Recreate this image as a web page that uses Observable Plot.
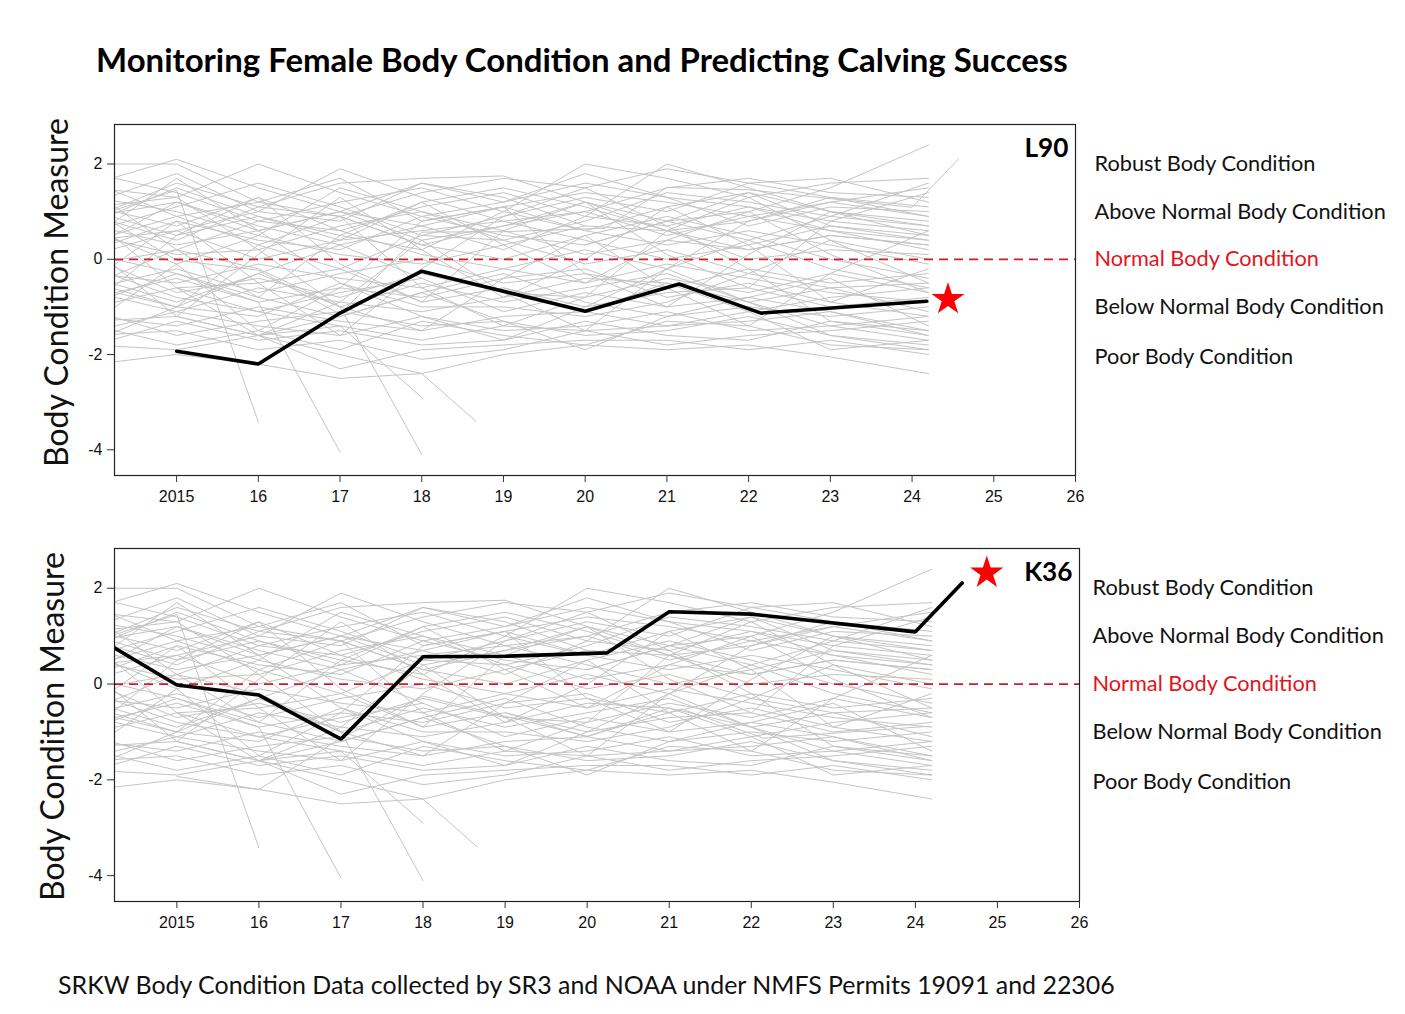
<!DOCTYPE html>
<html>
<head>
<meta charset="utf-8">
<script src="https://cdn.jsdelivr.net/npm/d3@7"></script>
<script src="https://cdn.jsdelivr.net/npm/@observablehq/plot@0.6"></script>
<style>
  html, body { margin: 0; padding: 0; background: #fff; }
  #page { position: relative; width: 1405px; height: 1014px; overflow: hidden; background: #fff; }
  .txt { position: absolute; white-space: nowrap; line-height: 1; color: #111; }
  #page svg { position: absolute; left: 0; }
</style>
</head>
<body>
<div id="page"></div>
<script>
// ---------------- DATA ----------------
const titleText = "Monitoring Female Body Condition and Predicting Calving Success";
const captionText = "SRKW Body Condition Data collected by SR3 and NOAA under NMFS Permits 19091 and 22306";
const yLabelText = "Body Condition Measure";
const panelIds = ["L90", "K36"];

const xTicks = [2015, 2016, 2017, 2018, 2019, 2020, 2021, 2022, 2023, 2024, 2025, 2026];
const xTickLabels = ["2015", "16", "17", "18", "19", "20", "21", "22", "23", "24", "25", "26"];
const yTicks = [2, 0, -2, -4];
const yTickLabels = ["2", "0", "-2", "-4"];

const conditionLabels = ["Robust Body Condition", "Above Normal Body Condition", "Normal Body Condition", "Below Normal Body Condition", "Poor Body Condition"];
const conditionLevels = [2, 1, 0, -1, -2.05];

// survey times of the population (grey lines)
const surveyYears = [2014, 2015, 2016, 2017, 2018, 2019, 2020, 2021, 2022, 2023, 2024.2];
const grayValues = [
  [2.0, 2.0, 1.2, 0.9, 1.4, 1.7, 1.5, 1.9, 1.6, 1.3, 1.1],
  [1.6, 2.1, 1.5, 1.0, 0.7, 1.1, 1.4, 1.2, 0.9, 1.2, 1.5],
  [1.2, 1.8, 1.0, 1.9, 1.3, 0.8, 1.0, 1.5, 1.7, 1.4, 1.3],
  [1.5, 1.3, 2.0, 1.4, 0.9, 1.2, 1.8, 1.3, 1.1, 0.6, 0.4],
  [0.9, 1.6, 1.1, 1.6, 1.7, 1.75, 1.2, 0.8, 1.0, 1.5, 2.4],
  [1.8, 1.4, 0.8, 1.2, 1.5, 1.0, 2.0, 1.7, 1.3, 1.6, 1.7],
  [1.1, 0.7, 1.3, 0.6, 1.1, 1.4, 0.9, 2.0, 1.5, 1.0, 0.8],
  [0.6, 1.1, 1.6, 1.1, 0.5, 0.9, 1.3, 1.0, 1.6, 1.7, 1.2],
  [1.3, 1.0, 0.5, 1.5, 1.0, 0.4, 0.8, 1.4, 1.2, 0.9, 1.6],
  [0.8, 1.5, 0.9, 0.4, 1.2, 1.5, 1.1, 0.6, 0.8, 1.2, 0.9],
  [1.6, 0.9, 1.2, 1.7, 0.8, 1.1, 0.6, 1.1, 1.4, 0.7, 0.5],
  [0.4, 0.6, 1.0, 0.8, 1.6, 1.2, 1.6, 1.3, 0.7, 1.1, 1.0],
  [0.7, 0.3, 0.6, 1.0, 0.4, 0.7, 1.0, 0.5, 0.9, 0.6, 0.2],
  [0.2, 0.8, 0.4, 0.2, 0.9, 0.5, 0.3, 0.8, 0.4, 0.9, 0.7],
  [1.0, 0.5, 0.9, 0.5, 0.2, 1.0, 0.6, 0.3, 0.6, 0.3, -0.1],
  [0.3, 1.2, 0.7, 0.3, 0.7, 0.2, 0.9, 0.7, 1.1, 0.8, 0.6],
  [0.5, 0.1, 0.2, 0.7, 1.0, 0.6, 0.1, 0.4, 0.2, 0.5, 0.3],
  [0.9, 0.4, 1.1, 0.9, 0.3, 0.0, 0.5, 0.9, 0.5, 0.0, -0.4],
  [0.1, 0.6, 0.0, 0.4, 0.6, 0.8, 0.4, 0.0, 0.3, 0.7, 0.4],
  [0.6, -0.1, 0.5, 0.1, -0.1, 0.3, 0.7, 0.6, 0.0, 0.2, 0.1],
  [-0.1, 0.2, 0.8, 0.6, 0.1, -0.2, 0.2, -0.2, 0.4, -0.2, -0.6],
  [0.4, 0.9, 0.3, -0.2, 0.5, 0.4, -0.1, 0.2, -0.3, 0.4, 0.0],
  [-0.3, -0.5, -0.1, -0.4, -0.6, -0.2, -0.5, -0.1, -0.4, -0.7, -0.9],
  [-0.6, -0.2, -0.7, -0.3, 0.0, -0.5, -0.3, -0.6, -0.2, -0.5, -0.3],
  [0.0, -0.7, -0.4, -0.8, -0.3, -0.7, -0.8, -0.4, -0.7, -0.3, -0.7],
  [-0.8, -0.4, -0.9, -0.6, -0.8, -0.4, -0.2, -0.8, -0.5, -0.9, -1.2],
  [-0.4, -0.9, -0.3, -1.0, -0.5, -0.9, -0.6, -0.3, -0.9, -0.6, -0.5],
  [-1.0, -0.6, -0.5, -0.2, -0.9, -0.6, -1.0, -0.7, -0.6, -1.0, -0.8],
  [-0.2, -0.8, -1.1, -0.7, -0.4, -1.1, -0.7, -1.0, -0.8, -0.4, -1.4],
  [-0.7, -1.1, -0.6, -0.9, -1.1, -0.8, -0.4, -0.5, -1.1, -0.8, -0.6],
  [-0.9, -0.3, -0.8, -1.2, -0.7, -0.3, -0.9, -1.2, -1.0, -1.2, -1.0],
  [-0.5, -1.0, -1.2, -0.5, -1.0, -1.0, -1.2, -0.9, -0.3, -0.6, -1.1],
  [-1.2, -1.4, -1.0, -1.3, -1.5, -1.2, -1.1, -1.4, -1.3, -1.1, -1.6],
  [-1.5, -1.1, -1.4, -1.6, -1.2, -1.5, -1.4, -1.1, -1.5, -1.4, -1.2],
  [-1.1, -1.6, -1.3, -1.1, -1.4, -1.3, -1.6, -1.5, -1.2, -1.6, -1.8],
  [-1.8, -1.3, -1.7, -1.5, -1.8, -1.7, -1.3, -1.6, -1.7, -1.3, -1.5],
  [-1.4, -1.8, -1.5, -1.9, -1.3, -1.6, -1.8, -1.3, -1.4, -1.8, -1.9],
  [-1.3, -1.2, -1.6, -1.4, -1.7, -1.4, -1.5, -1.8, -1.6, -1.5, -1.3],
  [-2.2, -2.0, -2.2, -2.5, -2.4, -2.0, -1.8, -1.9, -1.8, -2.05, -2.4],
  [-1.8, -1.9, -1.6, -2.3, -1.9, -1.8, -1.7, -1.7, -1.9, -1.7, -2.0],
  [-1.6, -1.5, -1.9, -1.7, -2.1, -1.9, -1.5, -1.4, -1.1, -1.9, -1.7],
  [1.4, 0.2, -0.8, 0.5, 1.2, 0.3, -0.5, 0.4, 1.0, 0.1, -0.7],
  [-0.9, 0.5, 1.3, -0.1, -0.9, 0.6, 1.2, 0.1, -0.6, 0.8, 1.4],
  [0.2, -1.2, 0.1, 1.3, 0.2, -0.8, 0.0, 1.1, 0.3, -0.9, -0.2],
  [-1.3, -0.1, -1.5, -0.6, 0.8, 1.1, -0.3, -1.0, 0.1, 1.0, 0.5],
  [1.1, 1.3, 0.2, -1.0, -1.5, -0.4, 0.5, -0.6, -1.4, -0.3, 0.6],
  [-0.4, 0.8, -0.5, -1.6, -0.2, 0.9, 1.5, 0.7, -0.2, -1.3, -1.6],
  [0.8, -0.6, -1.6, -0.9, 0.4, -0.7, -1.5, -0.2, 0.8, 1.3, 0.9],
  [-1.7, -1.0, 0.3, 0.9, -0.6, -1.4, -0.8, 0.6, 1.3, 0.4, -0.5],
  [0.5, 1.7, 0.6, -0.5, -1.2, -1.7, -1.0, -0.2, -0.9, -1.6, -1.9],
  [null, null, null, 0.9, 0.3, 0.7, 1.2, 0.6, 0.2, 0.5, 0.3],
  [null, null, null, null, null, -0.6, -1.1, -0.5, -0.9, -1.4, -1.7],
  [null, null, null, null, null, null, 0.3, 0.8, 1.4, 1.0, 0.7],
  [null, null, -1.6, -1.2, -0.7, -1.3, -1.9, -1.2, -0.8, -1.1, -1.5],
  [0.9, 1.2, 0.6, 1.0, 1.6, 1.3, 0.7, null, null, null, null],
  [-0.6, -1.0, -0.3, 0.3, -0.4, null, null, null, null, null, null]
];
// whales whose last measurement was a steep decline
const lostYears = [
  [2014, 2015, 2016],
  [2014, 2015, 2016, 2017],
  [2014, 2015, 2016, 2017, 2018],
  [2015, 2016, 2017, 2018],
  [2015, 2016, 2017, 2018, 2018.66]
];
const lostValues = [
  [0.9, 1.45, -3.42],
  [0.1, -0.3, -0.9, -4.05],
  [-0.5, 0.2, -0.2, -1.0, -4.1],
  [-0.6, -1.1, -1.4, -2.9],
  [-1.2, -1.6, -2.0, -2.4, -3.4]
];

// highlighted females
const l90Years = [2015, 2016, 2017, 2018, 2020, 2021.15, 2022.15, 2024.18];
const l90Values = [-1.93, -2.2, -1.13, -0.25, -1.09, -0.52, -1.13, -0.88];
const k36Years = [2014, 2015, 2016, 2017, 2018, 2019, 2020.24, 2021, 2022, 2024, 2024.57];
const k36Values = [1.0, -0.02, -0.23, -1.15, 0.57, 0.58, 0.65, 1.51, 1.46, 1.09, 2.11];

// red stars (predicted calving)
const starYears = [2024.44, 2024.87];
const starValues = [-0.84, 2.32];

// ---------------- HELPERS ----------------
const RED_LINE = "#c8202a";
const RED_TEXT = "#e3141c";
const GRAY = "#c4c4c4";
const FONT = "Lato, 'Open Sans', sans-serif";
const TICK_FONT = "'Liberation Sans', Arial, sans-serif";

const ctx = document.createElement("canvas").getContext("2d");
function fitSize(text, weight, target) {
  ctx.font = `${weight} 100px Lato`;
  return 100 * target / ctx.measureText(text).width;
}
function placeText(text, weight, size, left, baseline, color) {
  ctx.font = `${weight} ${size}px Lato`;
  const m = ctx.measureText(text);
  const asc = m.fontBoundingBoxAscent, desc = m.fontBoundingBoxDescent;
  const top = baseline - ((size - asc - desc) / 2 + asc);
  const el = document.createElement("div");
  el.className = "txt";
  el.textContent = text;
  el.style.cssText = `left:${left}px;top:${top}px;font-family:${FONT};font-weight:${weight};font-size:${size}px;color:${color};`;
  page.appendChild(el);
}

function rowsFor(list, yearsList, valuesList) {
  const rows = [];
  valuesList.forEach((vals, i) => vals.forEach((v, j) => rows.push({id: list + i, x: yearsList[i][j], y: v})));
  return rows;
}

const page = document.getElementById("page");

const labelSize = fitSize("Above Normal Body Condition", "normal", 292);
const ySize = fitSize(yLabelText, "normal", 350);
const idSize = fitSize("L90", "bold", 44);

const baseGray = rowsFor("g", grayValues.map(() => surveyYears), grayValues)
  .concat(rowsFor("lost", lostYears, lostValues));
const l90Rows = l90Years.map((x, i) => ({id: "L90", x, y: l90Values[i]}));
const k36Rows = k36Years.map((x, i) => ({id: "K36", x, y: k36Values[i]}));

const H = 420, MT = 24;
const panels = [
  {id: panelIds[0], highlight: l90Rows, other: k36Rows, star: 0, top: 100, mb: 45, mr: 330, labelDx: 19, yCx: 57, yCy: 292 - 100},
  {id: panelIds[1], highlight: k36Rows, other: l90Rows, star: 1, top: 524, mb: 43, mr: 326, labelDx: 13, yCx: 53, yCy: 726 - 524}
];

const levelIdx = d3.range(conditionLabels.length);

for (const p of panels) {
  const frameMid = (MT + H - p.mb) / 2;
  const svg = Plot.plot({
    width: 1405,
    height: H,
    marginTop: MT,
    marginBottom: p.mb,
    marginLeft: 114,
    marginRight: p.mr,
    x: {domain: [2014.24, 2026]},
    y: {domain: [-4.54, 2.83]},
    style: {fontFamily: TICK_FONT, fontSize: "16px", color: "#111", background: "transparent", overflow: "visible"},
    marks: [
      Plot.line(baseGray.concat(p.other), {x: "x", y: "y", z: "id", stroke: GRAY, strokeWidth: 1, clip: true}),
      Plot.ruleY([0], {stroke: RED_LINE, strokeWidth: 1.7, strokeDasharray: "9,6"}),
      Plot.line(p.highlight, {x: "x", y: "y", stroke: "#000", strokeWidth: 3.6, strokeLinejoin: "miter", clip: true}),
      Plot.dot([p.star], {x: i => starYears[i], y: i => starValues[i], symbol: "star", r: 10.4, fill: "#ff0000", stroke: "none"}),
      Plot.frame({stroke: "#222", strokeWidth: 1.2}),
      Plot.axisX({ticks: xTicks, tickFormat: d => xTickLabels[xTicks.indexOf(d)], tickSize: 7, tickPadding: 8, label: null, stroke: "#333", fontSize: 16, fontFamily: TICK_FONT}),
      Plot.axisY({ticks: yTicks, tickFormat: d => yTickLabels[yTicks.indexOf(d)], tickSize: 7, tickPadding: 5, label: null, stroke: "#333", fontSize: 16, fontFamily: TICK_FONT}),
      Plot.text([p.id], {x: null, y: null, frameAnchor: "top-right", lineAnchor: "middle", dx: -7, dy: 24, text: d => d, fontWeight: "bold", fontSize: idSize, fontFamily: FONT, fill: "#000", textAnchor: "end"}),
      Plot.text(levelIdx, {filter: i => Math.round(conditionLevels[i]) !== 0, x: () => 2026, y: i => conditionLevels[i], text: i => conditionLabels[i], dx: p.labelDx, textAnchor: "start", fill: "#111", fontFamily: FONT, fontSize: labelSize}),
      Plot.text(levelIdx, {filter: i => Math.round(conditionLevels[i]) === 0, x: () => 2026, y: i => conditionLevels[i], text: i => conditionLabels[i], dx: p.labelDx, textAnchor: "start", fill: RED_TEXT, fontFamily: FONT, fontSize: labelSize}),
      Plot.text([yLabelText], {x: null, y: null, frameAnchor: "left", rotate: -90, textAnchor: "middle", lineAnchor: "middle", dx: p.yCx - 114, dy: p.yCy - frameMid, text: d => d, fontFamily: FONT, fontSize: ySize, fill: "#111"})
    ]
  });
  svg.style.top = p.top + "px";
  page.appendChild(svg);
}

const titleSize = fitSize(titleText, "bold", 973);
placeText(titleText, "bold", titleSize, 96, 72, "#000");
const capSize = fitSize(captionText, "normal", 1060);
placeText(captionText, "normal", capSize, 58, 994, "#111");
</script>
</body>
</html>
